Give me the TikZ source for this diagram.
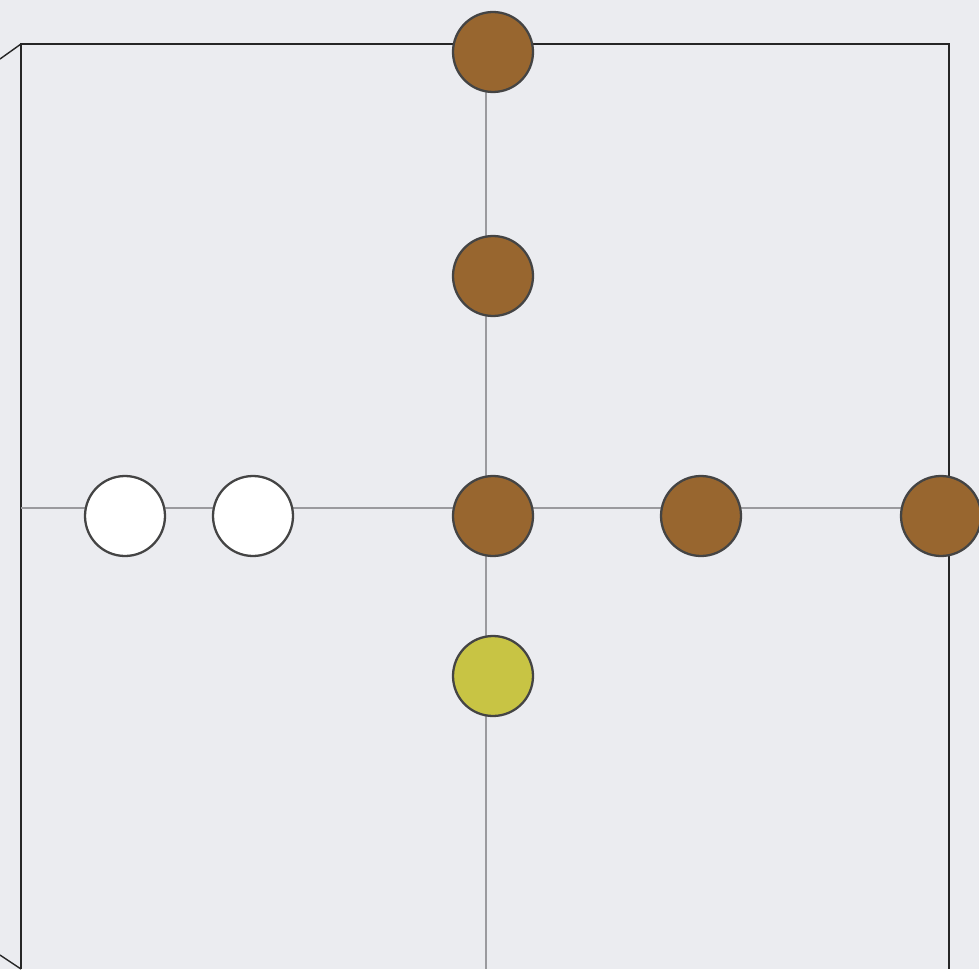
\documentclass[tikz,border=0pt]{standalone}
\usepackage{tikz}
\definecolor{bgcol}{HTML}{EBECF0}
\definecolor{edgecol}{HTML}{444444}
\definecolor{gridcol}{HTML}{9A9A9E}
\definecolor{brown}{HTML}{98662F}
\definecolor{olive}{HTML}{C8C444}
\begin{document}
\begin{tikzpicture}[x=0.02cm, y=-0.02cm,
    site/.style={draw=edgecol, line width=1.3pt, circle, minimum size=1.6cm, inner sep=0pt},
    full/.style={site, fill=brown},
    empty/.style={site, fill=white},
    dopant/.style={site, fill=olive}]
            \useasboundingbox (0,0) rectangle (979,969);
            \fill[bgcol] (0,0) rectangle (979,969);
            \clip (0,0) rectangle (979,969);

            % Define frame corners
            \coordinate (tl) at (21,44);
            \coordinate (tr) at (949,44);
            \coordinate (bl) at (21,969);
            \coordinate (br) at (949,969);
            \coordinate (ftop) at (486,44);
            \coordinate (fbottom) at (486,969);
            \coordinate (fleft) at (21,508);
            \coordinate (fright) at (949,508);

            % Draw frame
            \draw[black!85, line width=1.1pt] (bl) -- (tl) -- (tr) -- (br);
            \draw[black!85, line width=0.8pt] (tl) -- (0,59);
            \draw[black!85, line width=0.8pt] (bl) -- (0,955);

            % Draw axes
            \draw[gridcol, line width=0.8pt] (ftop) -- (fbottom);
            \draw[gridcol, line width=0.8pt] (fleft) -- (fright);

            % Define nodes
            \node[full] (1) at (493,52) {};
            \node[full] (2) at (493,276) {};
            \node[full] (3) at (493,516) {};
            \node[full] (4) at (701,516) {};
            \node[full] (5) at (941,516) {};
            \node[empty] (6) at (125,516) {};
            \node[empty] (7) at (253,516) {};
            \node[dopant] (8) at (493,676) {};

        \end{tikzpicture}
\end{document}
